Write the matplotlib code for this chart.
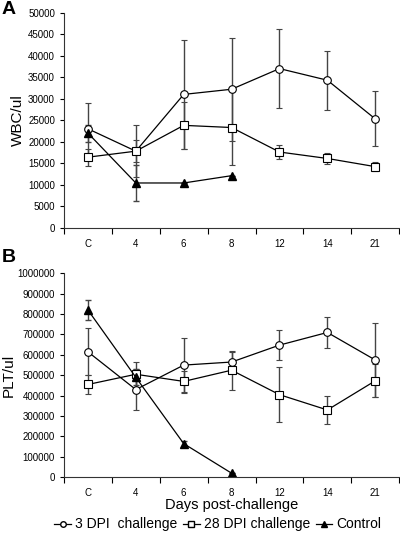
import numpy as np
import matplotlib
matplotlib.use("Agg")
import matplotlib.pyplot as plt
from matplotlib.lines import Line2D
from matplotlib.ticker import ScalarFormatter

plt.rcParams['font.family'] = ['Liberation Sans', 'DejaVu Sans']

days = ["C", "4", "6", "8", "12", "14", "21"]

# panel A: WBC/ul
wbc_3dpi = [23000, 17800, 31000, 32200, 37000, 34300, 25300]
wbc_3dpi_err = [6000, 6000, 12700, 12000, 9200, 6900, 6400]
wbc_28dpi = [16400, 17800, 23800, 23300, 17600, 16100, 14200]
wbc_28dpi_err = [2000, 2500, 5500, 8800, 1600, 1300, 1000]
wbc_ctrl = [22000, 10400, 10400, 12100]
wbc_ctrl_err = [2000, 4200, 0, 0]

# panel B: PLT/ul
plt_3dpi = [615000, 430000, 550000, 565000, 648000, 710000, 575000]
plt_3dpi_err = [115000, 100000, 135000, 50000, 75000, 75000, 180000]
plt_28dpi = [455000, 505000, 470000, 525000, 405000, 330000, 473000]
plt_28dpi_err = [45000, 60000, 50000, 95000, 135000, 70000, 80000]
plt_ctrl = [820000, 490000, 165000, 20000]
plt_ctrl_err = [50000, 40000, 15000, 0]


def draw_panel(ax, s1, e1, s2, e2, s3, e3, ymax, ystep, ylabel):
    x = np.arange(len(days))
    xc = np.arange(len(s3))
    kw = dict(color='black', lw=0.9, ecolor='#444444', elinewidth=1.0, capsize=2, capthick=1.0, ms=5.5)
    ax.errorbar(x, s1, yerr=e1, marker='o', mfc='white', mec='black', mew=0.8, **kw)
    ax.errorbar(x, s2, yerr=e2, marker='s', mfc='white', mec='black', mew=0.8, **kw)
    ax.errorbar(xc, s3, yerr=e3, marker='^', mfc='black', mec='black', **kw)
    ax.set_xlim(-0.5, len(days) - 0.5)
    ax.set_ylim(0, ymax)
    ax.set_yticks(np.arange(0, ymax + 1, ystep))
    fmt = ScalarFormatter(useOffset=False)
    fmt.set_scientific(False)
    ax.yaxis.set_major_formatter(fmt)
    ax.set_xticks(x)
    ax.set_xticklabels(days)
    ax.set_xticks(np.arange(-0.5, len(days)), minor=True)
    ax.tick_params(axis='x', which='major', length=0, labelsize=7, pad=8)
    ax.tick_params(axis='x', which='minor', length=4, width=0.8, direction='out')
    ax.tick_params(axis='y', length=3, width=0.8, labelsize=7, direction='out')
    for s in ['top', 'right']:
        ax.spines[s].set_visible(False)
    for s in ['left', 'bottom']:
        ax.spines[s].set_linewidth(0.8)
        ax.spines[s].set_color('#333333')
    ax.set_ylabel(ylabel, fontsize=11)


fig = plt.figure(figsize=(4.0, 5.34), dpi=100)
axA = fig.add_axes([0.16, 0.5736, 0.838, 0.4026])
axB = fig.add_axes([0.16, 0.1062, 0.838, 0.382])

draw_panel(axA, wbc_3dpi, wbc_3dpi_err, wbc_28dpi, wbc_28dpi_err, wbc_ctrl, wbc_ctrl_err, 50000, 5000, "WBC/ul")
draw_panel(axB, plt_3dpi, plt_3dpi_err, plt_28dpi, plt_28dpi_err, plt_ctrl, plt_ctrl_err, 1000000, 100000, "PLT/ul")
axA.yaxis.set_label_coords(-0.116, 0.5)
axB.yaxis.set_label_coords(-0.145, 0.5)
axB.set_xlabel("Days post-challenge", fontsize=10.5, labelpad=0)

fig.text(0.005, 0.998, "A", fontsize=14, fontweight='bold', va='top', ha='left')
fig.text(0.005, 0.533, "B", fontsize=14, fontweight='bold', va='top', ha='left')

handles = [
    Line2D([], [], color='black', lw=0.9, marker='o', mfc='white', mec='black', ms=4),
    Line2D([], [], color='black', lw=0.9, marker='s', mfc='white', mec='black', ms=4),
    Line2D([], [], color='black', lw=0.9, marker='^', mfc='black', mec='black', ms=4),
]
fig.legend(handles, ["3 DPI  challenge", "28 DPI challenge", "Control"], loc='center',
           bbox_to_anchor=(0.545, 0.018), ncol=3, frameon=False, fontsize=10,
           handlelength=1.2, handletextpad=0.3, columnspacing=0.4, borderpad=0)

fig.savefig("out.png", dpi=100)
